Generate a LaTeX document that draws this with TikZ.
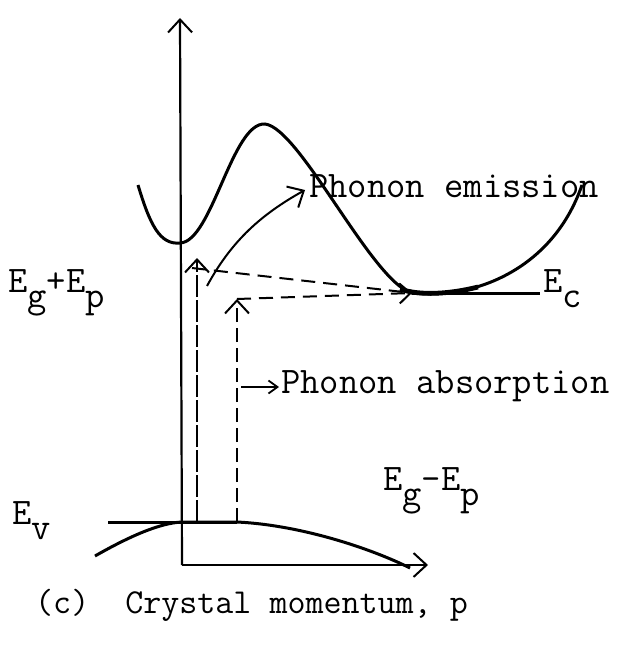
\documentclass[tikz,border=0pt]{standalone}
\usepackage{tikz}
\usetikzlibrary{arrows.meta}
\newcommand{\lowsub}[1]{\raisebox{-0.42em}{#1}}
\begin{document}
\begin{tikzpicture}[x=1pt, y=-1pt, every node/.style={font=\fontsize{37.5}{40}\selectfont\ttfamily, inner sep=0pt},
  barb/.style={-{Straight Barb[length=13pt, width=24pt, line width=2pt]}},
  band/.style={line width=3pt},
  axis/.style={line width=2.2pt, barb}]
  \useasboundingbox (0,0) rectangle (637,647);
  \coordinate (origin) at (182,565);
  \coordinate (ytip) at (180,18);
  \coordinate (xtip) at (428,565);
  \coordinate (cmin) at (412,293);
  \coordinate (cend) at (540,293);
  \coordinate (vtop) at (182,522);
  \coordinate (vleft) at (108,522);
  \coordinate (upA) at (197,522);
  \coordinate (upAtip) at (197,258);
  \coordinate (upB) at (237,522);
  \coordinate (upBtip) at (237,299);
  % axes
  \draw[axis] (origin) -- (ytip);
  \draw[axis] (origin) -- (xtip);
  % conduction band
  \draw[band] (138,185) .. controls (150,225) and (160,245) .. (180,243)
    .. controls (212,242) and (232,122) .. (265,124)
    .. controls (300,128) and (372,282) .. (cmin)
    .. controls (470,300) and (552,272) .. (582,185);
  \draw[line width=4.8pt] (400,289) .. controls (420,296) and (450,294) .. (478,287);
  \draw[band] (cmin) -- (cend);
  % valence band
  \draw[band] (vleft) -- (upB);
  \draw[band] (95,556) .. controls (130,536) and (160,523) .. (vtop) -- (upB)
    .. controls (300,525) and (370,548) .. (410,568);
  % transitions
  \draw[barb, line width=2pt, dash pattern=on 22pt off 3pt] (upA) -- (upAtip);
  \draw[barb, line width=2pt, dash pattern=on 14pt off 6pt] (upB) -- (upBtip);
  \draw[line width=2pt, dash pattern=on 14pt off 8pt] (192,268) -- (cmin);
  \draw[line width=2pt, dash pattern=on 14pt off 8pt, -{Straight Barb[length=11pt, width=20pt]}] (upBtip) -- (cmin);
  \draw[barb, line width=2pt] (207,286) .. controls (232,240) and (262,214) .. (305,190);
  \coordinate (absA) at (241,387);
  \coordinate (absB) at (279,387);
  \draw[line width=1.8pt, -{Straight Barb[length=9pt, width=13pt]}] (absA) -- (absB);
  % labels
  \node[anchor=west] (emis) at (309,186) {Phonon emission};
  \node[anchor=west] (absorb) at (281,386) {Phonon absorption};
  \node[anchor=base west] (egep) at (8,292) {E\lowsub{g}+E\lowsub{p}};
  \node[anchor=base west] (ec) at (543,292) {E\lowsub{c}};
  \node[anchor=base west] (ev) at (12,524) {E\lowsub{v}};
  \node[anchor=base west] (egmep) at (383,490) {E\lowsub{g}-E\lowsub{p}};
  \node[anchor=base west, font=\fontsize{35}{40}\selectfont\ttfamily] (caption) at (35,613) {(c)\ \ Crystal momentum, p};
\end{tikzpicture}
\end{document}
